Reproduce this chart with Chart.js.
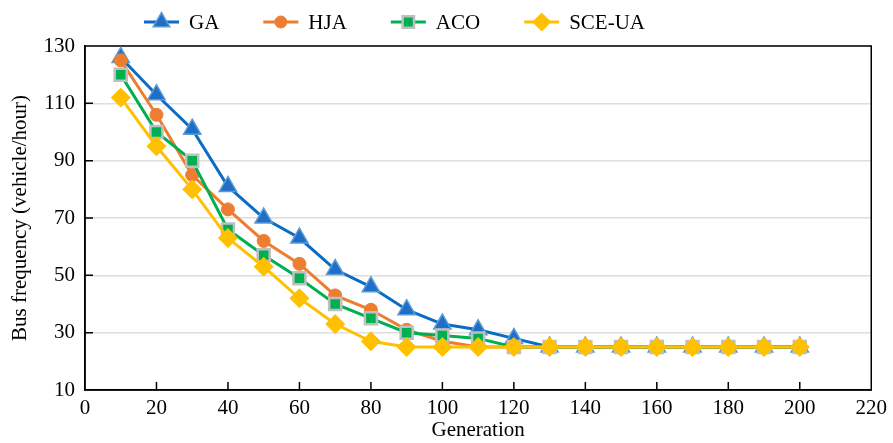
<!DOCTYPE html>
<html>
<head>
<meta charset="utf-8">
<script src="https://cdn.jsdelivr.net/npm/chart.js@4/dist/chart.umd.min.js"></script>
<style>
  html, body { margin: 0; padding: 0; background: #fff; overflow: hidden; }
  #wrap { width: 893px; height: 443px; }
</style>
</head>
<body>
<div id="wrap"><canvas id="graphCanvas" width="893" height="443"></canvas></div>
<script>
// data
const generations = [10, 20, 30, 40, 50, 60, 70, 80, 90, 100, 110, 120, 130, 140, 150, 160, 170, 180, 190, 200];
const gaValues = [126, 113, 101, 81, 70, 63, 52, 46, 38, 33, 31, 28, 25, 25, 25, 25, 25, 25, 25, 25];
const hjaValues = [125, 106, 85, 73, 62, 54, 43, 38, 31, 27, 25, 25, 25, 25, 25, 25, 25, 25, 25, 25];
const acoValues = [120, 100, 90, 66, 57, 49, 40, 35, 30, 29, 28, 25, 25, 25, 25, 25, 25, 25, 25, 25];
const sceValues = [112, 95, 80, 63, 53, 42, 33, 27, 25, 25, 25, 25, 25, 25, 25, 25, 25, 25, 25, 25];
const xTicks = [0, 20, 40, 60, 80, 100, 120, 140, 160, 180, 200, 220];
const yTicks = [10, 30, 50, 70, 90, 110, 130];

const FONT = "'Liberation Serif', 'Times New Roman', serif";
const FONT_SIZE = 21;

const toPoints = (values) => values.map((v, i) => ({ x: generations[i], y: v }));

const makeSeries = (label, values, style) => ({
  label: label,
  data: toPoints(values),
  borderColor: style.line,
  backgroundColor: style.fill,
  borderWidth: 3,
  pointStyle: style.shape,
  pointRadius: style.radius,
  pointHoverRadius: style.radius,
  pointBackgroundColor: style.fill,
  pointBorderColor: style.edge,
  pointBorderWidth: style.edgeWidth,
  tension: 0,
  order: style.order,
});

const datasets = [
  makeSeries("GA", gaValues, { line: "#0a6cc4", fill: "#1f6fc8", edge: "#5b9bd5", edgeWidth: 1.5, shape: "triangle", radius: 10, order: 4 }),
  makeSeries("HJA", hjaValues, { line: "#ed7d31", fill: "#ed7d31", edge: "#ed7d31", edgeWidth: 1, shape: "circle", radius: 6.5, order: 3 }),
  makeSeries("ACO", acoValues, { line: "#00b050", fill: "#00b050", edge: "#bfbfbf", edgeWidth: 2.5, shape: "rect", radius: 8.5, order: 2 }),
  makeSeries("SCE-UA", sceValues, { line: "#ffc000", fill: "#ffc000", edge: "#ffc000", edgeWidth: 1, shape: "rectRot", radius: 9.5, order: 1 }),
];

// frame, inward ticks and the line+marker legend
const framePlugin = {
  id: "frame",
  beforeDatasetsDraw(chart) {
    const { ctx, chartArea, scales } = chart;
    ctx.save();
    ctx.strokeStyle = "#000";
    ctx.lineWidth = 1.5;
    ctx.strokeRect(chartArea.left, chartArea.top, chartArea.right - chartArea.left, chartArea.bottom - chartArea.top);
    ctx.beginPath();
    xTicks.slice(1, -1).forEach((t) => {
      const px = scales.x.getPixelForValue(t);
      ctx.moveTo(px, chartArea.bottom);
      ctx.lineTo(px, chartArea.bottom - 8);
    });
    yTicks.slice(1, -1).forEach((t) => {
      const py = scales.y.getPixelForValue(t);
      ctx.moveTo(chartArea.left, py);
      ctx.lineTo(chartArea.left + 8, py);
    });
    ctx.stroke();
    ctx.restore();
  },
  afterDraw(chart) {
    const { ctx } = chart;
    const lineLen = 35;
    const y = 22;
    let x = 144;
    ctx.save();
    ctx.font = FONT_SIZE + "px " + FONT;
    ctx.textBaseline = "middle";
    ctx.textAlign = "left";
    chart.data.datasets.forEach((ds) => {
      ctx.strokeStyle = ds.borderColor;
      ctx.lineWidth = ds.borderWidth;
      ctx.beginPath();
      ctx.moveTo(x, y);
      ctx.lineTo(x + lineLen, y);
      ctx.stroke();
      ctx.fillStyle = ds.pointBackgroundColor;
      ctx.strokeStyle = ds.pointBorderColor;
      ctx.lineWidth = ds.pointBorderWidth;
      Chart.helpers.drawPoint(ctx, {
        pointStyle: ds.pointStyle,
        radius: ds.pointRadius - 0.5,
        rotation: 0,
        borderWidth: ds.pointBorderWidth,
      }, x + lineLen / 2, y);
      ctx.fillStyle = "#000";
      ctx.fillText(ds.label, x + lineLen + 10, y + 1);
      x += lineLen + 10 + ctx.measureText(ds.label).width + 44;
    });
    ctx.restore();
  },
};

new Chart(document.getElementById("graphCanvas"), {
  type: "line",
  data: { datasets: datasets },
  options: {
    responsive: false,
    animation: false,
    layout: { padding: { top: 46, right: 17, left: 0, bottom: 0 } },
    plugins: { legend: { display: false }, tooltip: { enabled: false } },
    scales: {
      x: {
        type: "linear",
        min: 0,
        max: 220,
        afterBuildTicks: (scale) => { scale.ticks = xTicks.map((v) => ({ value: v })); },
        afterFit: (scale) => { scale.height = 53; },
        grid: { display: false, drawTicks: false },
        border: { display: true, color: "#000", width: 1.5 },
        ticks: { color: "#000", padding: 6, maxRotation: 0, autoSkip: false, font: { family: FONT, size: FONT_SIZE } },
        title: { display: true, text: "Generation", color: "#000", padding: { top: -7, bottom: 0 }, font: { family: FONT, size: FONT_SIZE } },
      },
      y: {
        min: 10,
        max: 130,
        afterBuildTicks: (scale) => { scale.ticks = yTicks.map((v) => ({ value: v })); },
        afterFit: (scale) => { scale.width = 85; },
        grid: { color: "#dedede", lineWidth: 1.5, drawTicks: false },
        border: { display: true, color: "#000", width: 1.5 },
        ticks: { color: "#000", padding: 10, font: { family: FONT, size: FONT_SIZE } },
        title: { display: true, text: "Bus frequency (vehicle/hour)", color: "#000", padding: { top: 8, bottom: 0 }, font: { family: FONT, size: FONT_SIZE } },
      },
    },
  },
  plugins: [framePlugin],
});
</script>
</body>
</html>
